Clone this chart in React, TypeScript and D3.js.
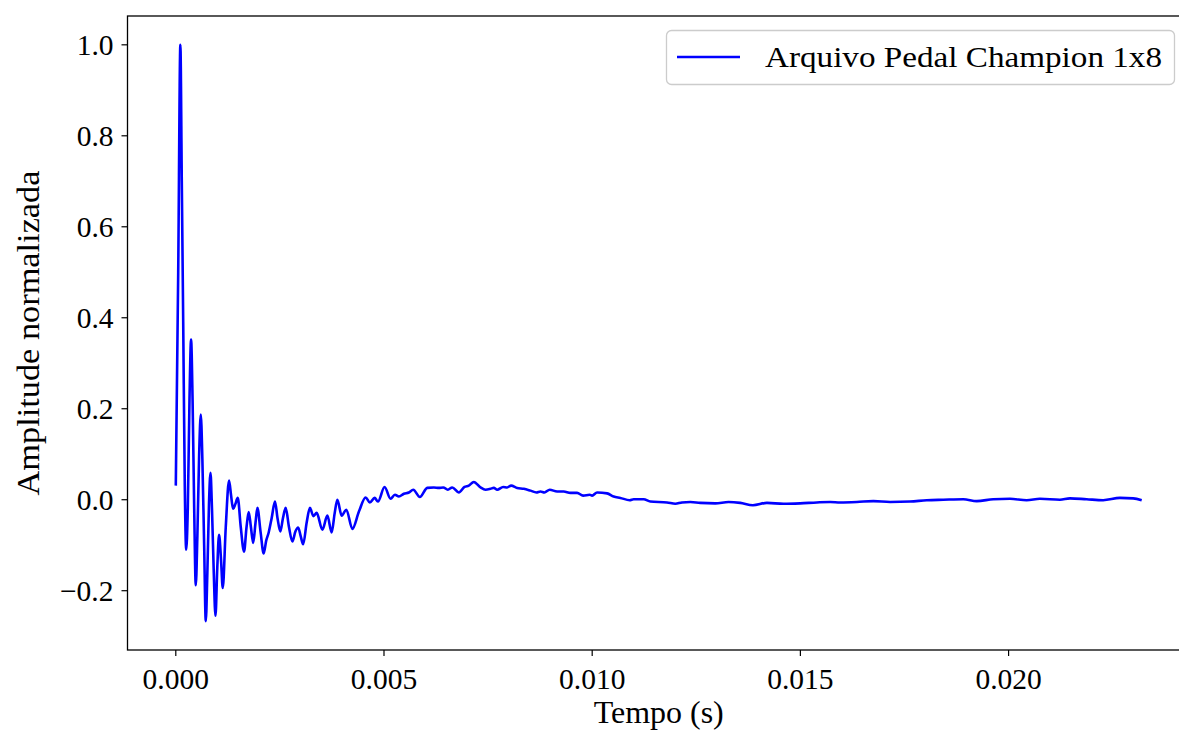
import React from "react";
import * as d3 from "d3";

// Time (ms) and normalized amplitude
const timeMs = [
  0, 0.058, 0.110, 0.144, 0.178, 0.216, 0.250, 0.288, 0.329, 0.367, 0.403, 0.442,
  0.480, 0.518, 0.561, 0.600, 0.638, 0.681, 0.720, 0.758, 0.797, 0.833, 0.869,
  0.912, 0.953, 0.996, 1.039, 1.085, 1.128, 1.200, 1.279, 1.327, 1.375, 1.428,
  1.488, 1.560, 1.639, 1.699, 1.751, 1.804, 1.859, 1.915, 1.960, 2.035, 2.111,
  2.171, 2.231, 2.303, 2.382, 2.442, 2.510, 2.574, 2.639, 2.718, 2.800, 2.872,
  2.939, 2.999, 3.059, 3.143, 3.222, 3.304, 3.383, 3.520, 3.640, 3.743, 3.815,
  3.880, 3.983, 4.096, 4.240, 4.398, 4.559, 4.659, 4.775, 4.854, 5.014, 5.158,
  5.262, 5.358, 5.478, 5.597, 5.703, 5.861, 6.039, 6.197, 6.317, 6.423, 6.533,
  6.639, 6.797, 6.934, 7.037, 7.157, 7.318, 7.438, 7.558, 7.637, 7.718, 7.862,
  7.958, 8.054, 8.198, 8.357, 8.517, 8.661, 8.757, 8.853, 8.980, 9.158, 9.316,
  9.477, 9.638, 9.782, 9.940, 9.998, 10.118, 10.358, 10.516, 10.677, 10.900,
  10.996, 11.236, 11.396, 11.797, 11.996, 12.157, 12.356, 12.596, 12.956, 13.275,
  13.556, 13.860, 14.196, 14.595, 14.995, 15.396, 15.715, 15.955, 16.356, 16.754,
  17.155, 17.634, 18.035, 18.433, 18.913, 19.235, 19.633, 20.034, 20.434, 20.753,
  21.233, 21.473, 21.874, 22.272, 22.673, 22.992, 23.197,
];

const amplitude = [
  0.031, 0.50, 1.000, 0.70, 0.39, 0.03, -0.110, -0.02, 0.22, 0.352, 0.22, -0.02,
  -0.188, -0.08, 0.10, 0.187, 0.09, -0.10, -0.267, -0.16, -0.01, 0.059, -0.02,
  -0.16, -0.255, -0.15, -0.077, -0.13, -0.194, -0.06, 0.042, 0.01, -0.020, -0.010,
  0.004, -0.06, -0.114, -0.06, -0.027, -0.06, -0.095, -0.05, -0.018, -0.07, -0.118,
  -0.09, -0.072, -0.04, -0.004, -0.04, -0.070, -0.04, -0.018, -0.06, -0.092, -0.07,
  -0.061, -0.08, -0.098, -0.05, -0.018, -0.036, -0.029, -0.066, -0.035, -0.072, -0.03,
  0.000, -0.035, -0.022, -0.064, -0.026, 0.005, -0.006, 0.004, -0.004, 0.028, 0.002,
  0.011, 0.007, 0.013, 0.016, 0.022, 0.006, 0.026, 0.027, 0.026, 0.027, 0.022,
  0.027, 0.016, 0.028, 0.031, 0.039, 0.027, 0.022, 0.024, 0.026, 0.022, 0.028,
  0.027, 0.031, 0.026, 0.024, 0.020, 0.016, 0.018, 0.016, 0.022, 0.018, 0.018,
  0.015, 0.015, 0.009, 0.011, 0.009, 0.016, 0.014, 0.007, 0.004, -0.001,
  0.001, 0.001, -0.004, -0.006, -0.009, -0.006, -0.005, -0.007, -0.008, -0.005,
  -0.007, -0.012, -0.007, -0.009, -0.008, -0.006, -0.005, -0.006, -0.005, -0.003,
  -0.005, -0.004, -0.001, 0.000, 0.001, -0.003, 0.001, 0.002, -0.001, 0.002,
  0.000, 0.003, 0.001, -0.001, 0.004, 0.003, -0.001,
];

const xTicks = [0, 0.005, 0.01, 0.015, 0.02];
const xTickLabels = ["0.000", "0.005", "0.010", "0.015", "0.020"];
const yTicks = [-0.2, 0, 0.2, 0.4, 0.6, 0.8, 1.0];
const yTickLabels = ["\u22120.2", "0.0", "0.2", "0.4", "0.6", "0.8", "1.0"];

const seriesLabel = "Arquivo Pedal Champion 1x8";
const xLabel = "Tempo (s)";
const yLabel = "Amplitude normalizada";

const FONT = "'Liberation Serif', 'Times New Roman', serif";

export default function App() {
  const W = 1179;
  const H = 731;
  const data = timeMs.map((t, i) => ({ t: t / 1000, v: amplitude[i] }));
  const tMax = d3.max(data, (d) => d.t) as number;
  const vMin = d3.min(data, (d) => d.v) as number;
  const vMax = d3.max(data, (d) => d.v) as number;
  const xPad = tMax * 0.05;
  const yPad = (vMax - vMin) * 0.05;

  const left = 127.5;
  const right = 1190;
  const top = 16;
  const bottom = 650;

  const x = d3.scaleLinear().domain([-xPad, tMax + xPad]).range([left, right]);
  const y = d3.scaleLinear().domain([vMin - yPad, vMax + yPad]).range([bottom, top]);

  const line = d3
    .line<{ t: number; v: number }>()
    .x((d) => x(d.t))
    .y((d) => y(d.v))
    .curve(d3.curveMonotoneX);

  const tickLen = 6;
  const fs = 29.5;

  return (
    <svg
      width={W}
      height={H}
      style={{ position: "absolute", left: 0, top: 0, background: "#fff" }}
      fontFamily={FONT}
    >
      <rect x={0} y={0} width={W} height={H} fill="#fff" />
      <path d={line(data) || ""} fill="none" stroke="#0000ff" strokeWidth={2.6} strokeLinejoin="round" />

      {/* spines */}
      <rect x={left} y={top} width={right - left} height={bottom - top} fill="none" stroke="#000" strokeWidth={1.3} />

      {/* x ticks */}
      {xTicks.map((t, i) => (
        <g key={"x" + i}>
          <line x1={x(t)} x2={x(t)} y1={bottom} y2={bottom + tickLen} stroke="#000" strokeWidth={1.2} />
          <text x={x(t)} y={bottom + 39} textAnchor="middle" fontSize={fs} fill="#000">
            {xTickLabels[i]}
          </text>
        </g>
      ))}

      {/* y ticks */}
      {yTicks.map((v, i) => (
        <g key={"y" + i}>
          <line x1={left - tickLen} x2={left} y1={y(v)} y2={y(v)} stroke="#000" strokeWidth={1.2} />
          <text x={left - 14} y={y(v) + 10} textAnchor="end" fontSize={fs} fill="#000">
            {yTickLabels[i]}
          </text>
        </g>
      ))}

      <text
        x={(left + right) / 2}
        y={723}
        textAnchor="middle"
        fontSize={31}
        fill="#000"
        textLength={130}
        lengthAdjust="spacingAndGlyphs"
      >
        {xLabel}
      </text>
      <text
        transform={`translate(39, ${(top + bottom) / 2 + 0}) rotate(-90)`}
        textAnchor="middle"
        fontSize={31}
        fill="#000"
        textLength={325}
        lengthAdjust="spacingAndGlyphs"
      >
        {yLabel}
      </text>

      {/* legend */}
      <g>
        <rect x={666.5} y={30.5} width={508} height={54} rx={5} ry={5} fill="#fff" fillOpacity={0.8} stroke="#cccccc" strokeWidth={1.3} />
        <line x1={677} x2={740} y1={57} y2={57} stroke="#0000ff" strokeWidth={2.6} />
        <text
          x={765}
          y={67}
          fontSize={30}
          fill="#000"
          textLength={397}
          lengthAdjust="spacingAndGlyphs"
        >
          {seriesLabel}
        </text>
      </g>
    </svg>
  );
}
